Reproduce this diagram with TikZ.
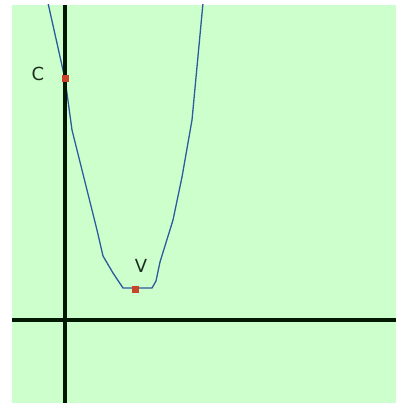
\documentclass[tikz,border=0pt]{standalone}
\usepackage{fontspec}
\setmainfont{DejaVu Sans}
\definecolor{ptred}{HTML}{C8452A}
\definecolor{crvblue}{HTML}{2E5A9E}
\definecolor{bg}{HTML}{CCFFCC}
\definecolor{txt}{HTML}{1E2E1E}
\begin{document}
\begin{tikzpicture}[x=1pt,y=-1pt,
  axis/.style={line width=4pt,color=black!90!green},
  curve/.style={line width=1.3pt,color=crvblue,line join=round},
  pt/.style={fill=ptred,minimum size=7pt,inner sep=0pt,draw=none,rectangle},
  lab/.style={font=\fontsize{18}{18}\selectfont,text=txt,inner sep=0pt}]
\useasboundingbox (0,0) rectangle (396,403);
\fill[white] (0,0) rectangle (396,403);
\fill[bg] (12,5) rectangle (396,403);
\begin{scope}
\clip (12,5) rectangle (396,403);
\draw[curve] (48,3) -- (65,79) -- (72,130) -- (97,230) -- (103,256) -- (113,273) -- (123,288) -- (152,288) -- (156,281) -- (160,262) -- (173,220) -- (182,177) -- (192,120) -- (203,3);
\end{scope}
\coordinate (ytop) at (65,5);
\coordinate (ybot) at (65,403);
\coordinate (xl) at (12,320);
\coordinate (xr) at (396,320);
\draw[axis] (ytop) -- (ybot);
\draw[axis] (xl) -- (xr);
\node[pt] (C) at (65,79) {};
\node[pt] (V) at (135,289) {};
\node[lab] (Clab) at (38,74) {C};
\node[lab] (Vlab) at (141,266) {V};
\end{tikzpicture}
\end{document}
